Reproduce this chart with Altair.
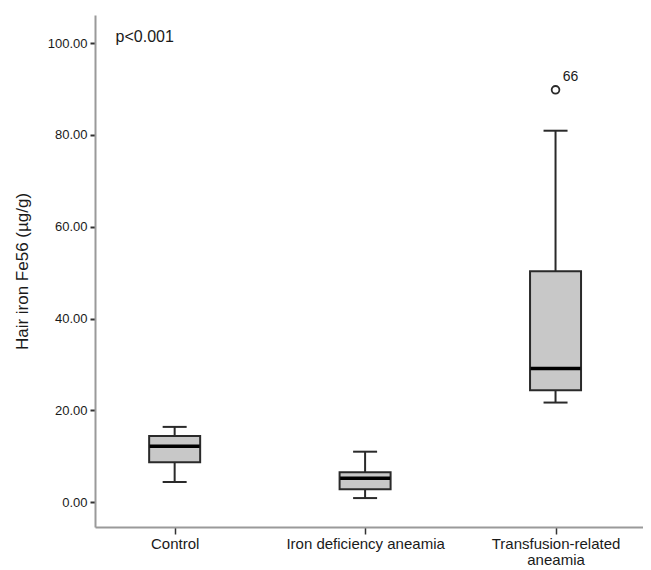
import altair as alt
import pandas as pd

categories = ["Control", "Iron deficiency aneamia", "Transfusion-related|aneamia"]
positions = [0, 1, 2]
lower_whisker = [4.4, 0.9, 21.7]
q1 = [8.7, 2.8, 24.4]
median = [12.2, 5.2, 29.1]
q3 = [14.4, 6.5, 50.3]
upper_whisker = [16.4, 11.0, 80.9]

outlier_pos = [2]
outlier_val = [89.8]
outlier_label = ["66"]

annot_text = ["p<0.001"]
annot_x = [-0.31]
annot_y = [101.3]

FONT = "Liberation Sans"
INK = "#1a1a1a"

df = pd.DataFrame({
    "pos": positions, "cat": categories,
    "lo": lower_whisker, "q1": q1, "med": median, "q3": q3, "hi": upper_whisker,
})
out_df = pd.DataFrame({"pos": outlier_pos, "v": outlier_val, "lab": outlier_label})
ann_df = pd.DataFrame({"x": annot_x, "y": annot_y, "t": annot_text})

label_expr = ("split(datum.value == 0 ? '" + categories[0] + "' : datum.value == 1 ? '"
              + categories[1] + "' : '" + categories[2] + "', '|')")

xscale = alt.Scale(domain=[-0.392, 2.433], nice=False, zero=False)
yscale = alt.Scale(domain=[-5.4, 106.1], nice=False, zero=False)

xenc = alt.X("pos:Q", scale=xscale, title=None,
             axis=alt.Axis(values=positions, labelExpr=label_expr, grid=False,
                           domainColor="#9a9a9a", domainWidth=2, tickColor="#333",
                           tickWidth=1.5, tickSize=7, labelFontSize=15, labelColor=INK,
                           labelFont=FONT, labelPadding=2, labelLineHeight=16))
yaxis = alt.Axis(values=[0, 20, 40, 60, 80, 100], format=".2f", grid=False,
                 domainColor="#9a9a9a", domainWidth=2, tickColor="#333", tickWidth=2,
                 tickSize=5, labelFontSize=13, labelColor=INK, labelFont=FONT,
                 labelPadding=3, title="Hair iron Fe56 (µg/g)", titleFont=FONT,
                 titleFontSize=17, titleFontWeight="normal", titleColor=INK,
                 titlePadding=16)

base = alt.Chart(df)

whisk = base.mark_rule(color="#2a2a2a", strokeWidth=2).encode(
    x=xenc, y=alt.Y("lo:Q", scale=yscale, axis=yaxis), y2="hi:Q")
box = base.mark_bar(size=51, color="#c8c8c8", stroke="#2a2a2a", strokeWidth=2).encode(
    x="pos:Q", y="q1:Q", y2="q3:Q")
med = base.mark_tick(orient="horizontal", size=50, thickness=3.5, color="#000",
                     opacity=1).encode(x="pos:Q", y="med:Q")
cap_lo = base.mark_tick(orient="horizontal", size=24, thickness=2, color="#2a2a2a",
                        opacity=1).encode(x="pos:Q", y="lo:Q")
cap_hi = base.mark_tick(orient="horizontal", size=24, thickness=2, color="#2a2a2a",
                        opacity=1).encode(x="pos:Q", y="hi:Q")

outl = alt.Chart(out_df).mark_point(shape="circle", size=60, filled=False, color="#2a2a2a",
                                    strokeWidth=1.8, opacity=1).encode(x="pos:Q", y="v:Q")
outl_lab = alt.Chart(out_df).mark_text(dx=15, dy=-13, fontSize=14, font=FONT,
                                       color=INK).encode(x="pos:Q", y="v:Q", text="lab:N")
ann = alt.Chart(ann_df).mark_text(align="left", fontSize=16, font=FONT, color=INK).encode(
    x="x:Q", y="y:Q", text="t:N")

chart = alt.layer(whisk, box, med, cap_lo, cap_hi, outl, outl_lab, ann).properties(
    width=548, height=512,
    autosize=alt.AutoSizeParams(type="none"),
    padding={"left": 87, "top": 7, "right": 0, "bottom": 40},
).configure(background="white").configure_view(strokeWidth=0, stroke=None)

chart.save("out.html", embed_options={"renderer": "svg", "actions": False})
